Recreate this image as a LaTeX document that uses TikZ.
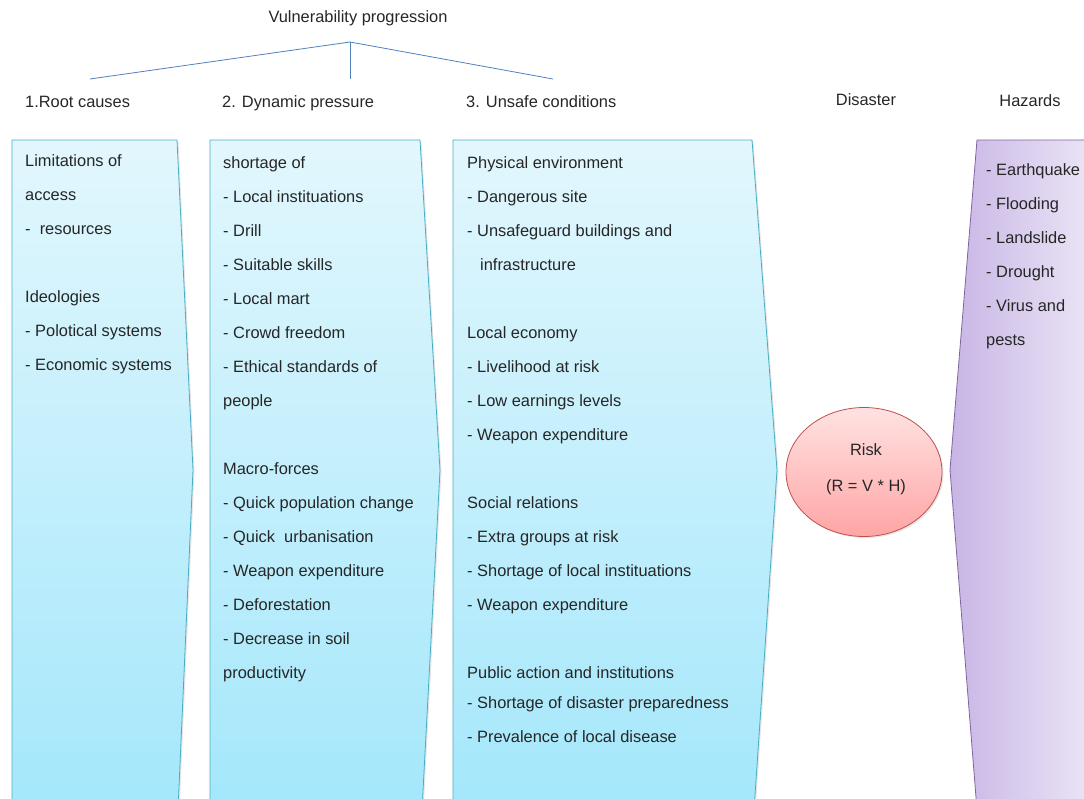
\documentclass[tikz,border=0pt]{standalone}
\usepackage{fontspec}
\setmainfont{Liberation Sans}
\usetikzlibrary{shapes.geometric,shadows,positioning}
\definecolor{blueTop}{RGB}{226,247,253}
\definecolor{blueBot}{RGB}{164,231,251}
\definecolor{blueEdge}{RGB}{75,172,198}
\definecolor{purpleL}{RGB}{200,181,229}
\definecolor{purpleR}{RGB}{236,230,246}
\definecolor{purpleEdge}{RGB}{128,100,162}
\definecolor{riskTop}{RGB}{255,226,226}
\definecolor{riskBot}{RGB}{255,165,165}
\definecolor{riskEdge}{RGB}{192,80,77}
\definecolor{treeLine}{RGB}{79,129,189}

\begin{document}
\begin{tikzpicture}[
  x=1pt, y=-1pt,
  every node/.style={font=\fontsize{16.4}{19}\selectfont, text=black!85, inner sep=0pt},
  item/.style={anchor=base west},
  head/.style={anchor=center},
  bluebox/.style={draw=blueEdge, line width=0.8pt, top color=blueTop, bottom color=blueBot,
    drop shadow={opacity=0.2, shadow xshift=1.5pt, shadow yshift=-1.5pt}},
  hazardbox/.style={draw=purpleEdge, line width=0.8pt, left color=purpleL, right color=purpleR,
    drop shadow={opacity=0.2, shadow xshift=1.5pt, shadow yshift=-1.5pt}},
  treeline/.style={draw=treeLine, line width=0.8pt}
]
\useasboundingbox (0,0) rectangle (1084,798);
\clip (0,0) rectangle (1084,798);

% tree of the three stages
\node[head] (title) at (358,18) {Vulnerability progression};
\coordinate (apex) at (350,42);
\coordinate (leg1) at (90,79);
\coordinate (leg2) at (350,79);
\coordinate (leg3) at (553,79);
\draw[treeline] (apex) -- (leg1);
\draw[treeline] (apex) -- (leg2);
\draw[treeline] (apex) -- (leg3);

\node[item] (root) at (25,107) {1.Root causes};
\node[item] (dynamic) at (222,107) {2. Dynamic pressure};
\node[item] (unsafe) at (466,107) {3. Unsafe conditions};
\node[head] (disaster) at (866,100) {Disaster};
\node[head] (hazards) at (1030,101) {Hazards};

% arrow shaped panels
\path[bluebox] (12,140) -- (177,140) -- (193,470) -- (178,810) -- (12,810) -- cycle;
\path[bluebox] (210,140) -- (420,140) -- (440,470) -- (422,810) -- (210,810) -- cycle;
\path[bluebox] (453,140) -- (752,140) -- (777,470) -- (754,810) -- (453,810) -- cycle;
\path[hazardbox] (977,140) -- (1095,140) -- (1095,810) -- (977,810) -- (950,470) -- cycle;

% panel texts
\foreach \n/\txt in {0/Limitations of, 1/access, 2/-\ \ resources, 4/Ideologies,
    5/- Polotical systems, 6/- Economic systems}
  \node[item] (rc\n) at (25,{166+34*\n}) {\txt};

\foreach \n/\txt in {0/shortage of, 1/- Local instituations, 2/- Drill, 3/- Suitable skills,
    4/- Local mart, 5/- Crowd freedom, 6/- Ethical standards of, 7/people,
    9/Macro-forces, 10/- Quick population change, 11/- Quick\ \ urbanisation,
    12/- Weapon expenditure, 13/- Deforestation, 14/- Decrease in soil, 15/productivity}
  \node[item] (dp\n) at (223,{168+34*\n}) {\txt};

\foreach \n/\txt in {0/Physical environment, 1/- Dangerous site, 2/- Unsafeguard buildings and,
    3/\hspace*{13pt}infrastructure, 5/Local economy, 6/- Livelihood at risk,
    7/- Low earnings levels, 8/- Weapon expenditure, 10/Social relations,
    11/- Extra groups at risk, 12/- Shortage of local instituations, 13/- Weapon expenditure,
    15/Public action and institutions, 15.9/- Shortage of disaster preparedness,
    16.9/- Prevalence of local disease}
  \node[item] (uc\n) at (467,{168+34*\n}) {\txt};

\foreach \n/\txt in {0/- Earthquake, 1/- Flooding, 2/- Landslide, 3/- Drought,
    4/- Virus and, 5/pests}
  \node[item] (hz\n) at (986,{175+34*\n}) {\txt};

% risk
\node[ellipse, draw=riskEdge, line width=0.8pt, top color=riskTop, bottom color=riskBot,
  minimum width=156pt, minimum height=129pt,
  drop shadow={opacity=0.2, shadow xshift=1.5pt, shadow yshift=-1.5pt}] (risk) at (864,472) {};
\node[head] (risklabel) at (866,450) {Risk};
\node[head, below=23pt of risklabel] (formula) {(R = V * H)};
\end{tikzpicture}
\end{document}
